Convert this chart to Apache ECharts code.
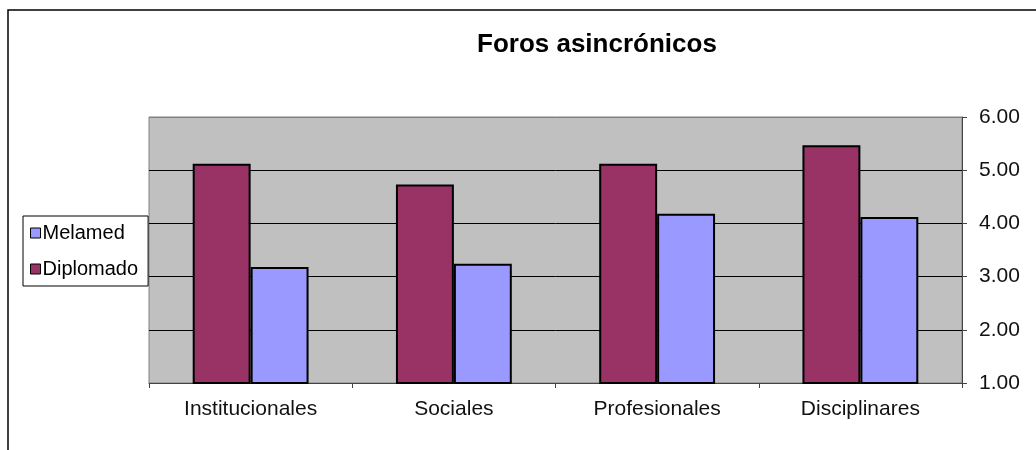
<!DOCTYPE html>
<html>
<head>
<meta charset="utf-8">
<script src="https://cdn.jsdelivr.net/npm/echarts@6/dist/echarts.min.js"></script>
<style>
  html, body { margin: 0; padding: 0; background: #fff; }
  #chart { width: 1036px; height: 450px; }
</style>
</head>
<body>
<div id="chart"></div>
<script>
// categorias y valores
var categories = ['Institucionales', 'Sociales', 'Profesionales', 'Disciplinares'];
var diplomado = [5.12, 4.73, 5.12, 5.47];
var melamed = [3.18, 3.24, 4.18, 4.12];
var yTicks = [1, 2, 3, 4, 5, 6];

var font = 'Liberation Sans, Arial, sans-serif';
var chart = echarts.init(document.getElementById('chart'));

var option = {
  animation: false,
  textStyle: { fontFamily: font },
  title: {
    text: 'Foros asincrónicos',
    left: 472,
    top: 27,
    textStyle: { fontFamily: font, fontSize: 26, fontWeight: 'bold', color: '#000' }
  },
  legend: {
    data: ['Melamed', 'Diplomado'],
    orient: 'vertical',
    left: 23,
    top: 216,
    padding: [7, 10, 7, 7],
    itemGap: 16,
    itemWidth: 10,
    itemHeight: 10,
    icon: 'rect',
    backgroundColor: '#fff',
    borderColor: '#000',
    borderWidth: 1,
    borderRadius: 0,
    itemStyle: { borderColor: '#000', borderWidth: 1 },
    textStyle: { fontFamily: font, fontSize: 20, color: '#000', padding: [0, 0, 0, -3] }
  },
  grid: {
    left: 149,
    right: 74,
    top: 117,
    bottom: 67,
    show: true,
    backgroundColor: '#C0C0C0',
    borderColor: '#808080',
    borderWidth: 1
  },
  xAxis: {
    type: 'category',
    data: categories,
    axisLine: { lineStyle: { color: '#444', width: 1 } },
    axisTick: { show: true, length: 5, interval: 0, lineStyle: { color: '#444' } },
    axisLabel: { fontFamily: font, fontSize: 21, color: '#111', margin: 16 }
  },
  yAxis: {
    type: 'value',
    position: 'right',
    min: yTicks[0],
    max: yTicks[yTicks.length - 1],
    interval: 1,
    axisLine: { show: true, lineStyle: { color: '#444', width: 1 } },
    axisTick: { show: true, length: 5, lineStyle: { color: '#444' } },
    axisLabel: {
      fontFamily: font, fontSize: 21, color: '#111', margin: 17,
      formatter: function (v) { return v.toFixed(2); }
    },
    splitLine: { show: true, lineStyle: { color: ['#808080', '#000', '#000', '#000', '#000', '#808080'], width: 1 } }
  },
  series: [
    {
      name: 'Diplomado',
      type: 'bar',
      data: diplomado,
      barGap: '0%',
      barCategoryGap: '43%',
      itemStyle: { color: '#993366', borderColor: '#000', borderWidth: 2 }
    },
    {
      name: 'Melamed',
      type: 'bar',
      data: melamed,
      itemStyle: { color: '#9999FF', borderColor: '#000', borderWidth: 2 }
    }
  ],
  graphic: [
    {
      type: 'polyline',
      shape: { points: [[8, 450], [8, 10], [1036, 10]] },
      style: { stroke: '#000', lineWidth: 1.5, fill: null }
    }
  ]
};

chart.setOption(option);
</script>
</body>
</html>
